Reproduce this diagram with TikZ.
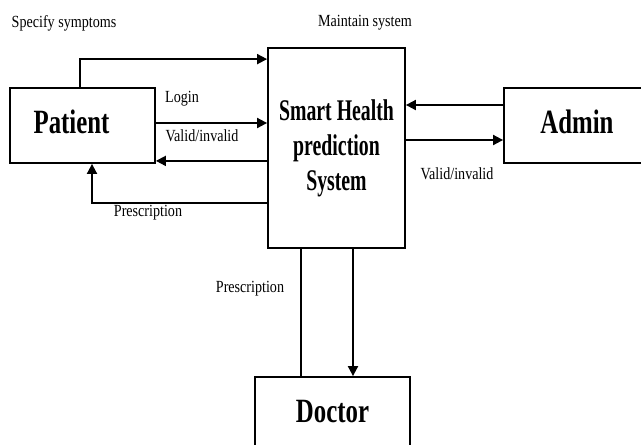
\documentclass[tikz,border=0pt]{standalone}
\usepackage{fontspec}
\setmainfont{Liberation Serif}
\usetikzlibrary{arrows.meta}

\newcommand{\entityfont}{\fontsize{34}{40}\selectfont\bfseries}
\newcommand{\flowtext}[1]{\scalebox{0.83}[1]{#1}}
\tikzset{
  entity/.style={draw, line width=1.8pt, inner sep=0pt},
  flow/.style={line width=1.8pt, -{Triangle[length=10pt,width=10pt]}},
  plain/.style={line width=1.8pt},
  lbl/.style={font=\fontsize{17}{20}\selectfont, inner sep=0pt}
}

\begin{document}
\begin{tikzpicture}[x=1pt,y=-1pt]
\clip (0,0) rectangle (641,445);
% entities
\node[entity, minimum width=145pt, minimum height=75pt, text depth=8pt] (patient) at (82.5,125.5) {\hspace*{-22pt}\scalebox{0.73}[1]{\entityfont Patient}};
\node[entity, minimum width=137pt, minimum height=200pt] (system) at (336.5,148) {\scalebox{0.66}[1]{\fontsize{30}{35}\selectfont\bfseries\begin{tabular}{@{}c@{}}Smart Health\\prediction\\System\end{tabular}}};
\node[entity, minimum width=146pt, minimum height=75pt, text depth=8pt] (admin) at (577,125.5) {\scalebox{0.73}[1]{\entityfont Admin}};
\node[entity, minimum width=155pt, minimum height=70pt] (doctor) at (332.5,412) {\scalebox{0.73}[1]{\entityfont Doctor}};

% patient <-> system
\coordinate (symp) at ([xshift=-2.5pt]patient.north);
\coordinate (login) at ([yshift=2.5pt]patient.east);
\coordinate (valid) at ([yshift=3pt]patient.south east);
\coordinate (presc) at ([yshift=-55pt]system.west);
\coordinate (back) at ([xshift=9.5pt]patient.south);
\draw[flow] (symp) |- ([yshift=-12pt]system.north west);
\draw[flow] (login) -- (login -| system.west);
\draw[flow] (valid -| system.west) -- (valid);
\draw[flow] (presc) -| (back);

% admin <-> system
\coordinate (maint) at ([yshift=20.5pt]admin.west);
\coordinate (check) at ([yshift=8pt]system.east);
\draw[flow] (maint) -- (maint -| system.east);
\draw[flow] (check) -- (check -| admin.west);

% system <-> doctor
\coordinate (dleft) at ([xshift=-35.5pt]system.south);
\coordinate (dright) at ([xshift=16.5pt]system.south);
\draw[plain] (dleft) -- (dleft |- doctor.north);
\draw[flow] (dright) -- (dright |- doctor.north);

% labels
\node[lbl] (lsymp) at (64,23) {\flowtext{Specify symptoms}};
\node[lbl] (lmaint) at (365,23) {\flowtext{Maintain system}};
\node[lbl] (llogin) at (182,99) {\flowtext{Login}};
\node[lbl] (lvalid) at (202,136) {\flowtext{Valid/invalid}};
\node[lbl] (lpresc) at (148,213) {\flowtext{Prescription}};
\node[lbl] (lcheck) at (457,174) {\flowtext{Valid/invalid}};
\node[lbl] (ldoc) at (250,289) {\flowtext{Prescription}};
\end{tikzpicture}
\end{document}
